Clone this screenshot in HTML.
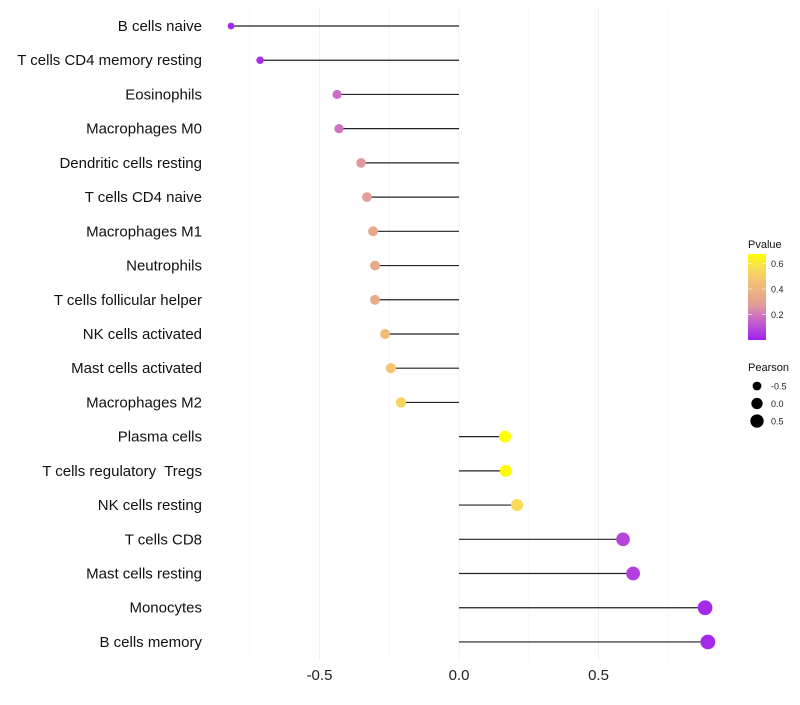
<!DOCTYPE html>
<html><head><meta charset="utf-8"><style>
body{margin:0;background:#fff}
svg text{font-family:"Liberation Sans",sans-serif;white-space:pre}
</style></head><body>
<svg id="chart" width="800" height="700"></svg>
<script>
const categories=["B cells naive","T cells CD4 memory resting","Eosinophils","Macrophages M0","Dendritic cells resting","T cells CD4 naive","Macrophages M1","Neutrophils","T cells follicular helper","NK cells activated","Mast cells activated","Macrophages M2","Plasma cells","T cells regulatory  Tregs","NK cells resting","T cells CD8","Mast cells resting","Monocytes","B cells memory"];
const pearson=[-0.817,-0.713,-0.437,-0.43,-0.351,-0.33,-0.308,-0.301,-0.301,-0.265,-0.244,-0.208,0.165,0.168,0.208,0.588,0.624,0.882,0.892];
const pvalue=[0.02,0.03,0.17,0.18,0.26,0.28,0.32,0.33,0.33,0.42,0.46,0.52,0.66,0.65,0.55,0.08,0.07,0.02,0.02];
const xTicks=[-0.5,0,0.5];
const xTickLabels=["-0.5","0.0","0.5"];
const minorTicks=[-0.75,-0.25,0.25,0.75];
const colorTicks=[0.2,0.4,0.6];
const sizeLegend=[-0.5,0,0.5];

const svg=document.getElementById('chart');
const NS='http://www.w3.org/2000/svg';
function mk(tag,attrs,parent){const e=document.createElementNS(NS,tag);for(const k in attrs)e.setAttribute(k,attrs[k]);(parent||svg).appendChild(e);return e;}
const xs=v=>459+v*279;
const ys=i=>26+i*34.22;
const rs=v=>Math.sqrt(Math.max(3,32+25*v));
const stops=[[0,[160,32,240]],[0.17,[204,108,196]],[0.26,[224,152,156]],[0.33,[232,170,136]],[0.45,[242,194,116]],[0.55,[248,220,88]],[0.66,[255,255,0]]];
function col(p){p=Math.max(0,Math.min(0.66,p));for(let i=1;i<stops.length;i++){if(p<=stops[i][0]){const a=stops[i-1],b=stops[i],t=(p-a[0])/(b[0]-a[0]);const c=a[1].map((v,j)=>Math.round(v+(b[1][j]-v)*t));return `rgb(${c.join(',')})`;}}return 'rgb(255,255,0)';}

const grid=mk('g',{});


minorTicks.forEach(v=>{const l=mk('line',{x1:xs(v),x2:xs(v),y1:8,y2:660,stroke:'#f7f7f7','stroke-width':1},grid);

});
xTicks.forEach((v,i)=>{const l=mk('line',{x1:xs(v),x2:xs(v),y1:8,y2:660,stroke:'#f0f0f0','stroke-width':1},grid);


const t=mk('text',{x:xs(v),y:680,'text-anchor':'middle','font-size':15,fill:'#222'});t.textContent=xTickLabels[i];

});

categories.forEach((c,i)=>{
const y=ys(i);
const t=mk('text',{x:202,y:y+5,'text-anchor':'end','font-size':15,fill:'#111'});t.textContent=c;


const l=mk('line',{x1:xs(0),x2:xs(pearson[i]),y1:y,y2:y,stroke:'#222','stroke-width':1.2});


const p=mk('circle',{cx:xs(pearson[i]),cy:y,r:rs(pearson[i]),fill:col(pvalue[i])});


});

const lg=mk('g',{});


const lt=mk('text',{x:748,y:248,'font-size':11,fill:'#111'},lg);lt.textContent='Pvalue';


const defs=mk('defs',{});const gr=mk('linearGradient',{id:'cg',x1:0,y1:1,x2:0,y2:0},defs);
stops.forEach(s=>mk('stop',{offset:s[0]/0.66,'stop-color':`rgb(${s[1].join(',')})`},gr));
const cb=mk('rect',{x:748,y:254,width:18,height:86,fill:'url(#cg)'},lg);


const cy=v=>340-v*127.5;
colorTicks.forEach(v=>{mk('line',{x1:748,x2:752,y1:cy(v),y2:cy(v),stroke:'#fff','stroke-opacity':0.6},lg);mk('line',{x1:762,x2:766,y1:cy(v),y2:cy(v),stroke:'#fff','stroke-opacity':0.6},lg);
const t=mk('text',{x:771,y:cy(v)+3.5,'font-size':9,fill:'#222'},lg);t.textContent=v.toFixed(1);

});
const st=mk('text',{x:748,y:371,'font-size':11,fill:'#111'},lg);st.textContent='Pearson';


sizeLegend.forEach((v,i)=>{const y=386+i*17.5;
const c=mk('circle',{cx:757,cy:y,r:rs(v),fill:'#000'},lg);


const t=mk('text',{x:771,y:y+3.5,'font-size':9,fill:'#222'},lg);t.textContent=v===0?'0.0':v.toFixed(1);

});
</script>
</body></html>
